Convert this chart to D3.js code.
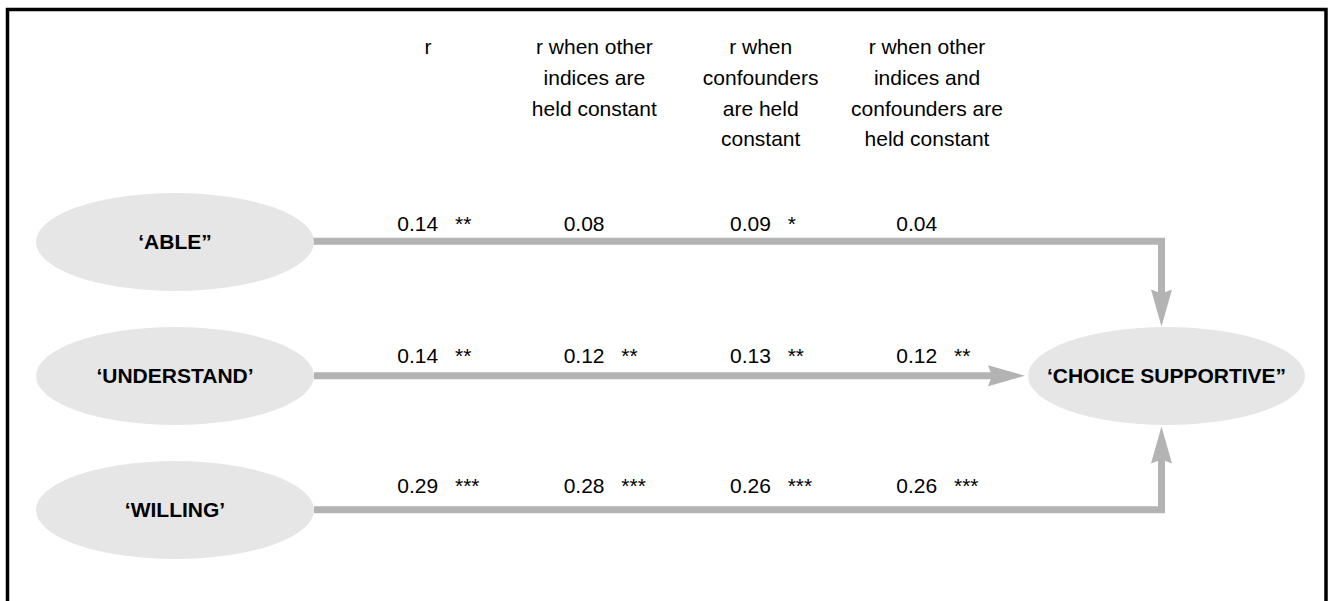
<!DOCTYPE html>
<html>
<head>
<meta charset="utf-8">
<script src="https://cdn.jsdelivr.net/npm/d3@7"></script>
<style>
  html, body { margin: 0; padding: 0; background: #fff; }
  svg { display: block; }
  text { font-family: "Liberation Sans", Arial, Helvetica, sans-serif; fill: #000; }
</style>
</head>
<body>
<svg id="chart" width="1331" height="601"></svg>
<script>
// ---- data ----
const predictors = ["\u2018ABLE\u201D", "\u2018UNDERSTAND\u2019", "\u2018WILLING\u2019"];
const outcome = "\u2018CHOICE SUPPORTIVE\u201D";
const columnHeaders = [
  ["r"],
  ["r when other", "indices are", "held constant"],
  ["r when", "confounders", "are held", "constant"],
  ["r when other", "indices and", "confounders are", "held constant"]
];
const rAble       = [0.14, 0.08, 0.09, 0.04];
const rUnderstand = [0.14, 0.12, 0.13, 0.12];
const rWilling    = [0.29, 0.28, 0.26, 0.26];
const sigAble       = ["**", "", "*", ""];
const sigUnderstand = ["**", "**", "**", "**"];
const sigWilling    = ["***", "***", "***", "***"];

const rValues = [rAble, rUnderstand, rWilling];
const sigValues = [sigAble, sigUnderstand, sigWilling];

// ---- layout ----
const svg = d3.select("#chart");
const lineColor = "#b3b3b3";
const nodeColor = "#e6e6e6";
const fontSize = 21;

const y = d3.scalePoint().domain(predictors).range([242, 510]);
const x = d3.scaleLinear().domain([0, columnHeaders.length - 1]).range([428, 927]);
const lineY = [241.3, 375.8, 509.7];
const textDy = [-10.3, -12.5, -16.4];

const leftCx = 175, rx = 139, ry = 49;
const outCx = 1166.5, outCy = y(predictors[1]);
const joinX = 1161.5;
const lineW = 7;

// frame (open at bottom)
svg.append("rect")
  .attr("x", 7.5).attr("y", 9.5)
  .attr("width", 1318.5).attr("height", 700)
  .attr("fill", "none").attr("stroke", "#000").attr("stroke-width", 3.5);

// header texts
const hdr = svg.append("g").selectAll("text")
  .data(columnHeaders).join("text")
  .attr("text-anchor", "middle")
  .attr("font-size", fontSize)
  .attr("x", (d, i) => x(i))
  .attr("y", 54.3);
hdr.selectAll("tspan").data(d => d).join("tspan")
  .attr("x", function () { return d3.select(this.parentNode).attr("x"); })
  .attr("dy", (d, i) => i === 0 ? 0 : 30.7)
  .text(d => d);

// connector lines
const arrowLen = 37, arrowHalf = 10.5, notch = 4;
function arrowHead(tipX, tipY, dir) {
  // dir: [dx, dy] unit vector pointing toward the tip
  const [dx, dy] = dir;
  const px = -dy, py = dx;
  const bx = tipX - dx * arrowLen, by = tipY - dy * arrowLen;
  const nx = tipX - dx * (arrowLen - notch), ny = tipY - dy * (arrowLen - notch);
  return `M${tipX},${tipY}L${bx + px * arrowHalf},${by + py * arrowHalf}L${nx},${ny}L${bx - px * arrowHalf},${by - py * arrowHalf}Z`;
}

const g = svg.append("g");
const topTip = outCy - ry - 0.5;
const botTip = outCy + ry + 1.5;
const paths = [
  { d: `M${leftCx + rx - 2},${lineY[0]}H${joinX}V${topTip - arrowLen + notch + 1}`,
    head: arrowHead(joinX, topTip, [0, 1]) },
  { d: `M${leftCx + rx},${lineY[1]}H${outCx - 138.5 - arrowLen + notch + 1}`,
    head: arrowHead(outCx - 138.5 - 3, lineY[1], [1, 0]) },
  { d: `M${leftCx + rx},${lineY[2]}H${joinX}V${botTip + arrowLen - notch - 1}`,
    head: arrowHead(joinX, botTip, [0, -1]) }
];
g.selectAll("path.link").data(paths).join("path")
  .attr("class", "link")
  .attr("d", d => d.d)
  .attr("fill", "none")
  .attr("stroke", lineColor)
  .attr("stroke-width", lineW)
  .attr("stroke-linejoin", "miter");
g.selectAll("path.head").data(paths).join("path")
  .attr("class", "head")
  .attr("d", d => d.head)
  .attr("fill", lineColor);

// predictor nodes
const nodes = svg.append("g").selectAll("g")
  .data(predictors).join("g");
nodes.append("ellipse")
  .attr("cx", leftCx).attr("cy", d => y(d))
  .attr("rx", rx).attr("ry", ry)
  .attr("fill", nodeColor);
nodes.append("text")
  .attr("x", leftCx).attr("y", d => y(d))
  .attr("dy", "0.35em")
  .attr("text-anchor", "middle")
  .attr("font-size", fontSize)
  .attr("font-weight", "bold")
  .text(d => d);

// outcome node
svg.append("ellipse")
  .attr("cx", outCx).attr("cy", outCy)
  .attr("rx", 138.5).attr("ry", ry)
  .attr("fill", nodeColor);
svg.append("text")
  .attr("x", outCx).attr("y", outCy)
  .attr("dy", "0.35em")
  .attr("text-anchor", "middle")
  .attr("font-size", fontSize)
  .attr("font-weight", "bold")
  .text(outcome);

// coefficient labels
const fmt = d3.format(".2f");
predictors.forEach((p, ri) => {
  const row = svg.append("g");
  const by = lineY[ri] + textDy[ri];
  row.selectAll("text.val").data(rValues[ri]).join("text")
    .attr("class", "val")
    .attr("x", (d, i) => x(i) - 30.7)
    .attr("y", by)
    .attr("font-size", fontSize)
    .text(d => fmt(d));
  row.selectAll("text.sig").data(sigValues[ri]).join("text")
    .attr("class", "sig")
    .attr("x", (d, i) => x(i) + 27)
    .attr("y", by)
    .attr("font-size", fontSize)
    .text(d => d);
});
</script>
</body>
</html>
